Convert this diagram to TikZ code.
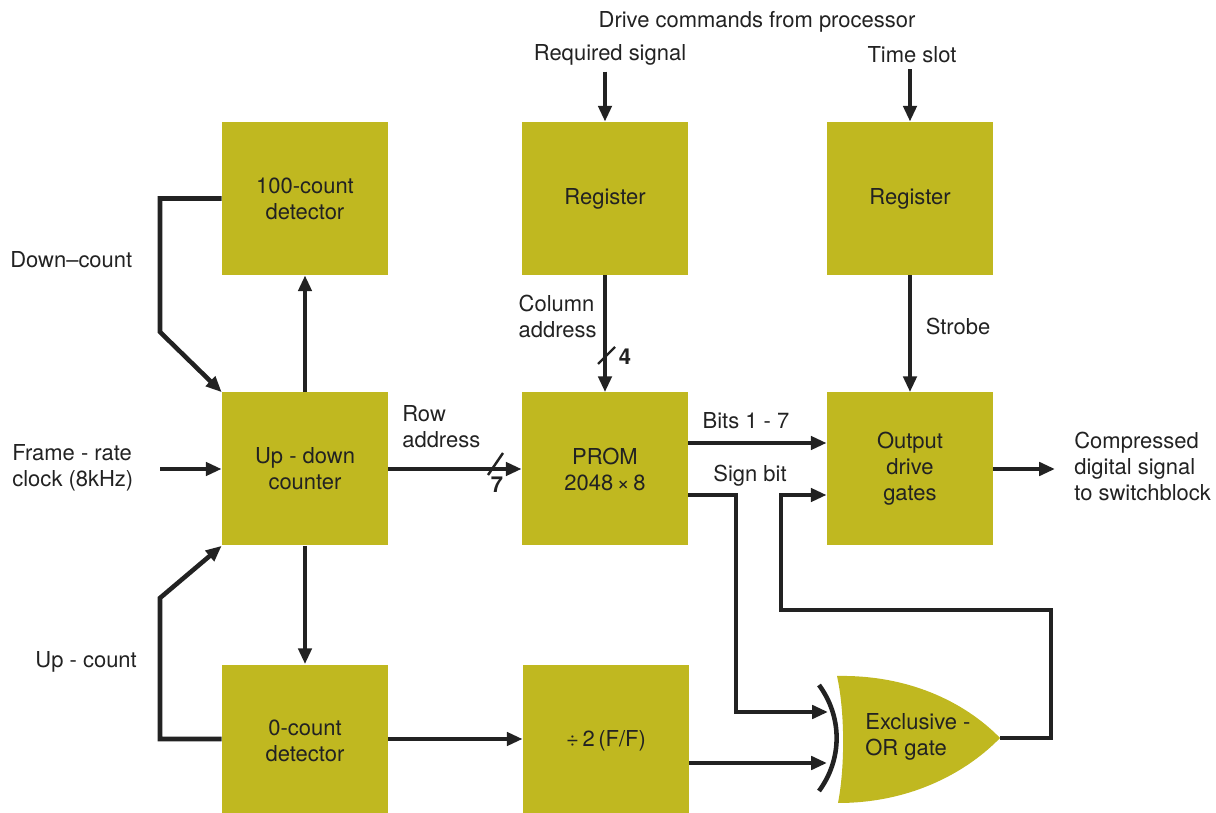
\documentclass[tikz,border=0pt]{standalone}
\usepackage{fontspec}
\setmainfont{TeX Gyre Heros}
\usetikzlibrary{arrows.meta}

\definecolor{blkfill}{RGB}{192,184,32}
\definecolor{ink}{RGB}{34,34,34}

\tikzset{
  blk/.style={fill=blkfill, minimum width=3.32cm, minimum height=3.06cm, align=center, inner sep=0pt},
  sig/.style={line width=2.6pt, draw=ink, -{Triangle[length=9pt,width=7.5pt]}},
  wire/.style={line width=2.6pt, draw=ink},
  lbl/.style={align=left, inner sep=0pt, text=ink},
  bus/.style={line width=1.4pt, draw=ink}
}

\begin{document}
\begin{tikzpicture}[font=\fontsize{12.5}{14.8}\selectfont, text=ink]
  \useasboundingbox (0,0) rectangle (24.32,16.24);

  % blocks
  \node[name=cnt100, blk] at (6.1,12.27) {100-count\\detector};
  \node[name=reg1, blk] at (12.1,12.27) {Register};
  \node[name=reg2, blk] at (18.2,12.27) {Register};
  \node[name=updown, blk] at (6.1,6.86) {Up - down\\counter};
  \node[name=prom, blk] at (12.1,6.86) {PROM\\2048\,×\,8};
  \node[name=outdrv, blk] at (18.2,6.86) {Output\\drive\\gates};
  \node[name=cnt0, blk] at (6.1,1.42) {0-count\\detector};
  \node[name=div2, blk] at (12.12,1.42) {÷\,2\,(F/F)};

  % exclusive-OR gate
  \fill[blkfill] (16.74,2.72) .. controls (18.3,2.75) and (19.4,2.1) .. (20.0,1.48)
    .. controls (19.4,0.86) and (18.3,0.18) .. (16.76,0.18)
    .. controls (16.9,0.9) and (16.9,2.0) .. cycle;
  \draw[line width=2.6pt, draw=ink] (16.38,2.54) .. controls (16.85,1.9) and (16.85,1.06) .. (16.38,0.42);
  \node[name=xor, lbl, anchor=west] at (17.3,1.5) {Exclusive -\\OR gate};
  \coordinate (xin1) at (16.56,2.0);
  \coordinate (xin2) at (16.54,0.98);
  \coordinate (xout) at (20.0,1.48);

  % texts
  \node[name=drive] at (15.14,15.8) {Drive commands from processor};
  \node[name=req] at (12.2,15.14) {Required signal};
  \node[name=slot] at (18.24,15.14) {Time slot};
  \node[name=down, lbl, anchor=west] at (0.2,11.04) {Down–count};
  \node[name=up, lbl, anchor=west] at (0.7,3.0) {Up - count};
  \node[name=clk, lbl, anchor=west] at (0.24,6.88) {Frame - rate\\clock (8kHz)};
  \node[name=col, lbl, anchor=east] at (11.94,9.92) {Column\\address};
  \node[name=row, lbl, anchor=west] at (8.04,7.7) {Row\\address};
  \node[name=bits] at (14.92,7.82) {Bits 1 - 7};
  \node[name=sign] at (15.0,6.72) {Sign bit};
  \node[name=strobe] at (19.16,9.72) {Strobe};
  \node[name=out, lbl, anchor=west] at (21.48,6.92) {Compressed\\digital signal\\to switchblock};
  \node[name=four] at (12.5,9.1) {\bfseries 4};
  \node[name=seven] at (9.94,6.54) {\bfseries 7};

  \coordinate (clkin) at (3.2,6.86);
  \coordinate (outend) at (21.1,6.86);

  % connectors
  \draw[sig] (reg1.north |- req.south) -- (reg1.north);
  \draw[sig] (reg2.north |- slot.south) -- (reg2.north);
  \draw[sig] (cnt100.west) -| (3.2,9.6) -- (updown.north west);
  \draw[sig] (updown.north) -- (cnt100.south);
  \draw[sig] (clkin) -- (updown.west);
  \draw[sig] (updown.south) -- (cnt0.north);
  \draw[sig] ([yshift=0.04cm]cnt0.west) -| (3.2,4.28) -- (updown.south west);
  \draw[sig] ([yshift=0.04cm]cnt0.east) -- ([yshift=0.04cm]div2.west);
  \draw[sig] (div2.east |- xin2) -- (xin2);
  \draw[sig] (updown.east) -- (prom.west);
  \draw[bus] (9.76,6.74) -- (10.06,7.18);
  \draw[sig] (reg1.south) -- (prom.north);
  \draw[bus] (11.96,8.96) -- (12.3,9.3);
  \draw[sig] ([yshift=0.52cm]prom.east) -- ([yshift=0.52cm]outdrv.west);
  \draw[sig] ([yshift=-0.52cm]prom.east) -| (14.72,2.0) -- (xin1);
  \draw[sig] (xout) -| (21.02,4.04) -| (15.62,6.34) -- ([yshift=-0.52cm]outdrv.west);
  \draw[sig] (reg2.south) -- (outdrv.north);
  \draw[sig] (outdrv.east) -- (outend);
\end{tikzpicture}
\end{document}
